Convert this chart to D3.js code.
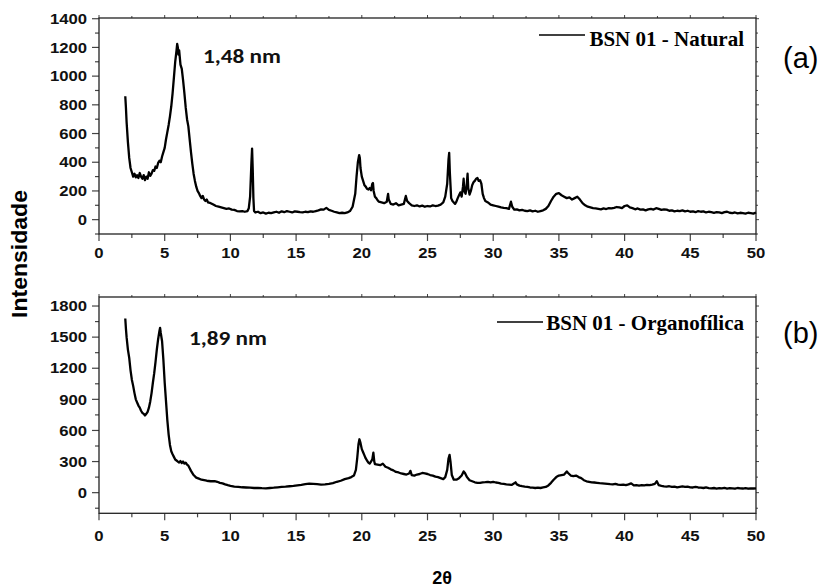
<!DOCTYPE html>
<html><head><meta charset="utf-8">
<script src="https://cdn.jsdelivr.net/npm/d3@7"></script>
<style>html,body{margin:0;padding:0;background:#fff;}svg{display:block;}</style>
</head><body>
<svg id="c" width="822" height="588"></svg>
<script>
// ---------- data ----------
const natTheta = [2.00,2.05,2.10,2.20,2.30,2.40,2.50,2.60,2.70,2.80,2.90,3.00,3.10,3.20,3.30,3.40,3.50,3.60,3.70,3.80,3.90,4.00,4.10,4.20,4.30,4.40,4.50,4.60,4.70,4.80,4.90,5.00,5.10,5.20,5.30,5.40,5.50,5.60,5.70,5.80,5.90,5.95,6.00,6.05,6.10,6.20,6.30,6.40,6.50,6.60,6.70,6.80,6.90,7.00,7.10,7.20,7.30,7.40,7.50,7.60,7.70,7.80,7.90,8.00,8.10,8.20,8.30,8.50,8.70,8.90,9.10,9.30,9.50,9.70,9.90,10.1,10.3,10.5,10.7,10.9,11.1,11.3,11.4,11.5,11.6,11.65,11.7,11.75,11.8,11.9,12.1,12.3,12.5,12.7,12.9,13.1,13.3,13.5,13.7,13.9,14.1,14.3,14.5,14.7,14.9,15.1,15.3,15.5,15.7,15.9,16.1,16.3,16.5,16.7,16.9,17.1,17.3,17.5,17.7,17.9,18.1,18.3,18.5,18.7,18.9,19.1,19.3,19.5,19.6,19.7,19.8,19.85,19.9,20.0,20.1,20.2,20.3,20.4,20.5,20.6,20.7,20.8,20.85,20.9,21.0,21.1,21.2,21.3,21.5,21.7,21.9,22.0,22.05,22.2,22.4,22.6,22.8,23.0,23.2,23.35,23.45,23.6,23.8,24.0,24.2,24.4,24.6,24.8,25.0,25.2,25.4,25.6,25.8,26.0,26.2,26.35,26.5,26.6,26.65,26.7,26.8,26.9,27.0,27.1,27.2,27.3,27.4,27.5,27.6,27.7,27.75,27.8,27.9,28.0,28.05,28.1,28.2,28.3,28.4,28.5,28.6,28.7,28.8,28.9,29.0,29.1,29.2,29.3,29.4,29.6,29.8,30.0,30.2,30.4,30.6,30.8,31.0,31.2,31.35,31.45,31.6,31.8,32.0,32.2,32.4,32.6,32.8,33.0,33.2,33.4,33.6,33.8,34.0,34.2,34.4,34.6,34.8,35.0,35.2,35.4,35.6,35.8,36.0,36.2,36.4,36.6,36.8,37.0,37.2,37.4,37.6,37.8,38.0,38.2,38.4,38.6,38.8,39.0,39.2,39.4,39.6,39.8,40.0,40.2,40.4,40.6,40.8,41.0,41.2,41.4,41.6,41.8,42.0,42.2,42.4,42.6,42.8,43.0,43.2,43.4,43.6,43.8,44.0,44.2,44.4,44.6,44.8,45.0,45.2,45.4,45.6,45.8,46.0,46.2,46.4,46.6,46.8,47.0,47.2,47.4,47.6,47.8,48.0,48.2,48.4,48.6,48.8,49.0,49.2,49.4,49.6,49.8,50.0];
const natInt = [860,780,680,540,430,360,330,300,320,295,310,290,325,300,285,310,275,300,285,330,305,320,345,340,370,360,395,410,400,440,470,500,560,610,660,720,790,880,990,1100,1180,1225,1200,1150,1180,1080,1050,970,880,780,700,650,560,470,390,320,270,230,200,185,165,150,165,140,130,140,120,115,105,95,90,85,80,75,78,70,68,60,58,60,55,60,80,160,400,495,350,150,60,50,55,45,50,42,48,45,50,55,48,58,52,60,55,50,58,55,52,50,55,52,58,55,60,65,72,70,82,68,62,55,50,45,48,45,50,60,90,180,300,400,450,430,360,300,270,240,230,215,210,220,205,250,255,200,160,150,135,125,120,115,125,180,140,110,105,115,100,105,110,165,130,115,100,95,100,92,98,90,95,92,100,95,98,105,120,160,250,420,465,330,150,130,120,110,125,150,170,190,160,230,285,200,180,260,320,220,175,200,240,260,270,285,290,270,275,250,180,150,130,120,105,100,95,90,85,82,80,75,125,90,70,72,65,68,62,60,65,58,62,55,60,65,75,95,130,160,180,185,170,160,150,155,140,150,160,140,115,100,90,85,80,78,75,72,78,74,80,78,82,88,85,80,95,100,85,80,72,78,70,72,65,72,75,70,80,75,68,72,70,62,65,58,62,60,65,58,62,55,58,52,60,55,58,50,55,52,48,52,50,45,52,55,48,45,50,44,48,45,42,48,45,42,50];

const orgTheta = [2.00,2.05,2.10,2.20,2.30,2.40,2.50,2.60,2.70,2.80,2.90,3.00,3.10,3.20,3.30,3.40,3.50,3.60,3.70,3.80,3.90,4.00,4.10,4.20,4.30,4.40,4.50,4.60,4.65,4.70,4.80,4.90,5.00,5.10,5.20,5.30,5.40,5.50,5.60,5.70,5.80,5.90,6.00,6.10,6.20,6.30,6.40,6.50,6.60,6.70,6.80,6.90,7.00,7.20,7.40,7.60,7.80,8.00,8.20,8.50,8.80,9.00,9.20,9.40,9.60,9.80,10.0,10.3,10.6,10.9,11.2,11.5,11.8,12.1,12.4,12.7,13.0,13.3,13.6,13.9,14.2,14.5,14.8,15.1,15.4,15.7,16.0,16.3,16.6,16.9,17.2,17.5,17.8,18.1,18.4,18.7,19.0,19.2,19.4,19.55,19.65,19.75,19.82,19.9,20.0,20.1,20.2,20.3,20.4,20.5,20.6,20.7,20.8,20.88,20.95,21.0,21.2,21.4,21.6,21.8,22.0,22.2,22.4,22.6,22.8,23.0,23.2,23.4,23.6,23.7,23.8,24.0,24.2,24.4,24.6,24.8,25.0,25.2,25.4,25.6,25.8,26.0,26.2,26.35,26.5,26.6,26.68,26.75,26.85,27.0,27.2,27.4,27.6,27.75,27.85,28.0,28.2,28.4,28.6,28.8,29.0,29.2,29.4,29.6,29.8,30.0,30.2,30.4,30.6,30.8,31.0,31.2,31.4,31.6,31.7,31.8,32.0,32.2,32.4,32.6,32.8,33.0,33.2,33.4,33.6,33.8,34.0,34.2,34.4,34.6,34.8,35.0,35.2,35.4,35.6,35.7,35.9,36.1,36.3,36.5,36.7,36.9,37.1,37.3,37.5,37.7,37.9,38.1,38.3,38.5,38.7,38.9,39.1,39.3,39.5,39.7,39.9,40.1,40.3,40.5,40.7,40.9,41.1,41.3,41.5,41.7,41.9,42.1,42.3,42.45,42.6,42.8,43.0,43.2,43.4,43.6,43.8,44.0,44.2,44.4,44.6,44.8,45.0,45.2,45.4,45.6,45.8,46.0,46.2,46.4,46.6,46.8,47.0,47.2,47.4,47.6,47.8,48.0,48.2,48.4,48.6,48.8,49.0,49.2,49.4,49.6,49.8,50.0];
const orgInt = [1680,1580,1500,1380,1300,1180,1090,1030,960,900,870,840,820,790,770,760,745,760,780,820,880,960,1060,1150,1260,1380,1480,1560,1590,1540,1460,1280,1060,880,700,560,460,400,370,345,320,310,300,290,305,285,300,280,290,270,260,235,210,170,145,135,125,120,115,110,112,105,95,90,80,72,65,58,55,52,50,48,45,45,43,42,45,48,52,55,58,62,65,70,75,82,88,85,82,78,80,85,92,105,115,130,140,150,165,220,330,470,515,480,420,390,360,330,310,290,280,300,320,385,300,275,270,265,280,250,240,225,215,200,195,185,180,175,185,210,170,165,175,180,190,185,180,170,165,155,150,140,130,150,220,330,365,300,170,125,125,140,165,205,190,150,120,110,100,95,95,100,102,105,100,105,98,95,88,85,80,78,75,90,100,80,68,62,58,55,50,48,45,48,45,50,55,70,95,125,150,165,170,175,205,190,165,160,165,150,140,120,110,105,100,98,95,92,90,88,85,82,80,85,78,75,78,72,80,90,70,72,68,72,70,75,72,78,85,110,72,65,60,58,62,55,58,52,56,60,55,58,52,50,55,50,48,45,50,44,42,45,40,44,42,46,40,44,42,38,45,42,40,44,38,42,40,42];

const xTickValues = [0,5,10,15,20,25,30,35,40,45,50];
const topYTickValues = [0,200,400,600,800,1000,1200,1400];
const botYTickValues = [0,300,600,900,1200,1500,1800];
const seriesNames = ["BSN 01 - Natural","BSN 01 - Organofílica"];
const peakLabels = ["1,48 nm","1,89 nm"];
const panelLetters = ["(a)","(b)"];
const xTitle = "2θ";
const yTitle = "Intensidade";

// ---------- layout ----------
const svg = d3.select("#c");
const L = 99, R = 756;
const x = d3.scaleLinear().domain([0,50]).range([L,R]);

const panels = [
  {top:18, bottom:234, domain:[-100,1405], major:topYTickValues, minorStep:100,
   theta:natTheta, inten:natInt, name:seriesNames[0], peak:peakLabels[0], letter:panelLetters[0],
   peakX:203, peakY:63, legLine:[539,585], legY:35, legTextEnd:744, legBase:46, letterY:68, xLabBase:257.5},
  {top:297, bottom:513.3, domain:[-199,1887], major:botYTickValues, minorStep:150,
   theta:orgTheta, inten:orgInt, name:seriesNames[1], peak:peakLabels[1], letter:panelLetters[1],
   peakX:189, peakY:345, legLine:[497,543], legY:322, legTextEnd:744, legBase:330, letterY:343, xLabBase:540.5}
];

const frameCol = "#222", tickCol = "#444";

panels.forEach(p => {
  const y = d3.scaleLinear().domain(p.domain).range([p.bottom, p.top]);
  const g = svg.append("g");

  const yMinor = d3.range(Math.ceil(p.domain[0]/p.minorStep)*p.minorStep, p.domain[1]+1, p.minorStep);
  const xMinor = d3.range(0, 50.01, 2.5);

  yMinor.forEach(v => {
    const isMajor = p.major.includes(v);
    g.append("line").attr("x1", L - (isMajor?7:4)).attr("x2", L)
      .attr("y1", y(v)).attr("y2", y(v)).attr("stroke", tickCol).attr("stroke-width", 1.2);
    g.append("line").attr("x1", R).attr("x2", R + (isMajor?3:2))
      .attr("y1", y(v)).attr("y2", y(v)).attr("stroke", tickCol).attr("stroke-width", 1);
  });
  p.major.forEach(v => {
    g.append("text").attr("transform", `translate(${L-12},${y(v)}) scale(1.15,1)`)
      .attr("text-anchor","end").attr("dy","0.36em")
      .attr("font-family","Liberation Sans, Arial, sans-serif").attr("font-weight","bold")
      .attr("font-size",14.5).attr("fill","#111").text(v);
  });
  xMinor.forEach(v => {
    const isMajor = xTickValues.includes(v);
    g.append("line").attr("x1", x(v)).attr("x2", x(v))
      .attr("y1", p.bottom).attr("y2", p.bottom + (isMajor?7:4)).attr("stroke", tickCol).attr("stroke-width", 1.2);
    g.append("line").attr("x1", x(v)).attr("x2", x(v))
      .attr("y1", p.top).attr("y2", p.top - (isMajor?3:2)).attr("stroke", tickCol).attr("stroke-width", 1);
  });
  xTickValues.forEach(v => {
    g.append("text").attr("transform", `translate(${x(v)},${p.xLabBase}) scale(1.15,1)`)
      .attr("text-anchor","middle")
      .attr("font-family","Liberation Sans, Arial, sans-serif").attr("font-weight","bold")
      .attr("font-size",14.5).attr("fill","#111").text(v);
  });

  g.append("rect").attr("x",L).attr("y",p.top).attr("width",R-L).attr("height",p.bottom-p.top)
    .attr("fill","none").attr("stroke",frameCol).attr("stroke-width",1.3);

  const pts = p.theta.map((t,i)=>[t,p.inten[i]]);
  const line = d3.line().x(d=>x(d[0])).y(d=>y(d[1]));
  g.append("path").datum(pts).attr("d",line).attr("fill","none")
    .attr("stroke","#000").attr("stroke-width",2.3).attr("stroke-linejoin","round");

  g.append("text").attr("x",p.peakX).attr("y",p.peakY)
    .attr("font-family","Carlito, Calibri, Lato, sans-serif").attr("font-weight","bold")
    .attr("font-size",20).attr("textLength",78).attr("lengthAdjust","spacingAndGlyphs")
    .attr("fill","#111").text(p.peak);

  g.append("line").attr("x1",p.legLine[0]).attr("x2",p.legLine[1]).attr("y1",p.legY).attr("y2",p.legY)
    .attr("stroke","#000").attr("stroke-width",1.6);
  g.append("text").attr("x",p.legTextEnd).attr("y",p.legBase).attr("text-anchor","end")
    .attr("font-family","Liberation Serif, Times New Roman, serif").attr("font-weight","bold")
    .attr("font-size",21).attr("fill","#000").text(p.name);

  g.append("text").attr("x",783).attr("y",p.letterY)
    .attr("font-family","Liberation Sans, Arial, sans-serif")
    .attr("font-size",29).attr("fill","#000").text(p.letter);
});

svg.append("text").attr("x",442).attr("y",584).attr("text-anchor","middle")
  .attr("font-family","Liberation Sans, Arial, sans-serif").attr("font-weight","bold")
  .attr("font-size",18).attr("fill","#000").text(xTitle);
svg.append("text").attr("transform","translate(27,254) rotate(-90)").attr("text-anchor","middle")
  .attr("font-family","Liberation Sans, Arial, sans-serif").attr("font-weight","bold")
  .attr("font-size",22).attr("textLength",128).attr("lengthAdjust","spacingAndGlyphs")
  .attr("fill","#000").text(yTitle);
</script>
</body></html>
